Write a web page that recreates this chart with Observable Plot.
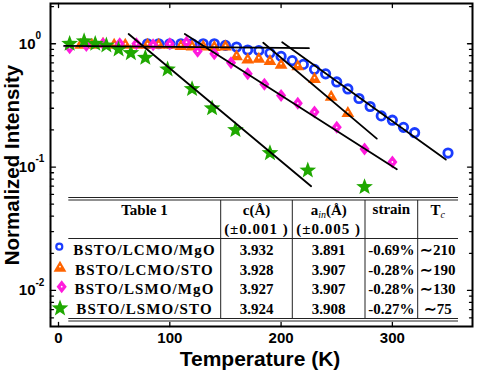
<!DOCTYPE html>
<html><head><meta charset="utf-8">
<script src="https://cdn.jsdelivr.net/npm/d3@7"></script>
<script src="https://cdn.jsdelivr.net/npm/@observablehq/plot@0.6"></script>
<style>body{margin:0;background:#fff}#chart{width:477px;height:370px}</style>
</head><body><div id="chart"></div>
<script>
// ---- data ----
const seriesNames = ["BSTO/LCMO/MgO", "BSTO/LCMO/STO", "BSTO/LSMO/MgO", "BSTO/LSMO/STO"];
const blueT = [80,90,100,110,120,130,140,150,160,170,180,190,200,210,220,230,240,250,260,270,280,290,300,310,320,350];
const blueI = [1.0,1.0,1.0,1.0,1.0,1.0,1.0,0.97,0.94,0.89,0.88,0.84,0.79,0.73,0.68,0.62,0.57,0.49,0.43,0.36,0.31,0.26,0.24,0.21,0.19,0.13];
const orangeT = [20,30,40,50,60,70,80,90,100,110,120,130,140,150,160,170,180,190,200,215,230,245,260];
const orangeI = [1.0,1.0,1.02,1.0,1.0,1.0,1.0,1.0,1.0,0.98,0.97,0.97,0.96,0.97,0.81,0.76,0.77,0.74,0.69,0.67,0.53,0.38,0.28];
const pinkT = [10,25,40,55,70,85,100,115,125,140,155,170,185,200,215,230,250,275,300];
const pinkI = [0.93,0.97,1.0,1.0,1.0,0.98,1.0,1.03,0.87,0.83,0.70,0.57,0.47,0.38,0.33,0.28,0.21,0.14,0.11];
const greenT = [10,23,33,43,54,65,78,98,120,138,159,190,224,275];
const greenI = [1.0,1.05,1.0,0.97,0.90,0.84,0.77,0.62,0.43,0.30,0.20,0.13,0.094,0.069];
// fitted lines: start/end temperature and intensity
const fitT0 = [5, 63, 113.5, 184, 201];
const fitT1 = [225, 227, 304, 286, 348];
const fitI0 = [0.96, 1.2, 1.2, 1.02, 1.03];
const fitI1 = [0.92, 0.07, 0.096, 0.17, 0.115];
// ticks
const xTicks = [0, 100, 200, 300];
const yMajor = [1, 0.1, 0.01];
const yExp = ["0", "-1", "-2"];
const yMinor = [0.006,0.007,0.008,0.009,0.02,0.03,0.04,0.05,0.06,0.07,0.08,0.09,0.2,0.3,0.4,0.5,0.6,0.7,0.8,0.9,2];
// table
const cVals = ["3.932", "3.928", "3.927", "3.924"];
const aVals = ["3.891", "3.907", "3.907", "3.908"];
const strainVals = ["-0.69%", "-0.28%", "-0.28%", "-0.27%"];
const tcVals = ["\u223C210", "\u223C190", "\u223C130", "\u223C75"];

const BLUE = "#1a3cff", ORANGE = "#ff6400", PINK = "#ff1adc", GREEN = "#1fa800";
const SANS = "'Liberation Sans', Arial, sans-serif";

// ---- symbols ----
const rOf = s => Math.sqrt(s / Math.PI);
const triSym = {draw(c, s) { const r = rOf(s); c.moveTo(0, -r * 0.92); c.lineTo(r, r * 0.8); c.lineTo(-r, r * 0.8); c.closePath(); }};
const diaSym = {draw(c, s) { const r = rOf(s); c.moveTo(0, -r); c.lineTo(r * 0.78, 0); c.lineTo(0, r); c.lineTo(-r * 0.78, 0); c.closePath(); }};
const starSym = {draw(c, s) { const r = rOf(s), ri = r * 0.42;
  for (let i = 0; i < 10; i++) { const a = -Math.PI / 2 + i * Math.PI / 5, rr = i % 2 ? ri : r;
    const x = rr * Math.cos(a), y = rr * Math.sin(a); i ? c.lineTo(x, y) : c.moveTo(x, y); }
  c.closePath(); }};
const tickShape = {draw(c, l) { c.moveTo(0, 0); c.lineTo(0, -l); }};

const pts = (T, I) => T.map((t, i) => ({T: t, I: I[i]}));
const blue = pts(blueT, blueI), orange = pts(orangeT, orangeI), pink = pts(pinkT, pinkI), green = pts(greenT, greenI);
const fits = fitT0.flatMap((t, i) => [{k: i, T: t, I: fitI0[i]}, {k: i, T: fitT1[i], I: fitI1[i]}]);

const tickOpts = {shape: tickShape, anchor: "start", stroke: "black", strokeWidth: 1.3};

const plot = Plot.plot({
  width: 477, height: 370,
  marginLeft: 50, marginRight: 5, marginTop: 3, marginBottom: 44,
  x: {domain: [-7.2, 372], axis: null},
  y: {type: "log", domain: [0.0051, 2.12], axis: null},
  marks: [
    Plot.dot(blue, {x: "T", y: "I", r: 4.2, stroke: BLUE, strokeWidth: 2.8, fill: "none"}),
    Plot.dot(orange, {x: "T", y: "I", r: 6.4, symbol: triSym, fill: ORANGE}),
    Plot.dot(orange, {x: "T", y: "I", r: 0.9, fill: "white"}),
    Plot.dot(pink, {x: "T", y: "I", r: 6.5, symbol: diaSym, fill: PINK}),
    Plot.dot(pink, {x: "T", y: "I", r: 0.9, fill: "white"}),
    Plot.dot(green, {x: "T", y: "I", r: 8.8, symbol: starSym, fill: GREEN}),
    Plot.line(fits, {x: "T", y: "I", z: "k", stroke: "black", strokeWidth: 1.8}),
    // inward ticks
    Plot.vector(xTicks, {x: d => d, frameAnchor: "bottom", length: 4, rotate: 0, ...tickOpts}),
    Plot.vector(xTicks, {x: d => d, frameAnchor: "top", length: 4, rotate: 180, ...tickOpts}),
    Plot.vector(yMajor, {y: d => d, frameAnchor: "left", length: 5, rotate: 90, ...tickOpts}),
    Plot.vector(yMinor, {y: d => d, frameAnchor: "left", length: 3, rotate: 90, ...tickOpts}),
    Plot.vector(yMajor, {y: d => d, frameAnchor: "right", length: 5, rotate: -90, ...tickOpts}),
    Plot.vector(yMinor, {y: d => d, frameAnchor: "right", length: 3, rotate: -90, ...tickOpts}),
    Plot.frame({stroke: "black", strokeWidth: 2}),
    // tick labels
    Plot.text(xTicks, {x: d => d, frameAnchor: "bottom", dy: 12, text: d => String(d), textAnchor: "middle", lineAnchor: "middle",
      fontSize: 15, fontWeight: "bold", fontFamily: SANS, fill: "black"}),
    Plot.text(yMajor, {y: d => d, frameAnchor: "left", dx: -15, text: () => "10", textAnchor: "end", lineAnchor: "middle",
      fontSize: 15, fontWeight: "bold", fontFamily: SANS, fill: "black"}),
    Plot.text(yMajor, {y: d => d, frameAnchor: "left", dx: -15, dy: -8, text: (d, i) => yExp[i], textAnchor: "start", lineAnchor: "middle",
      fontSize: 10, fontWeight: "bold", fontFamily: SANS, fill: "black"}),
    // axis titles
    Plot.text(["Temperature (K)"], {frameAnchor: "bottom", dy: 33, dx: -1.5, textAnchor: "middle", lineAnchor: "middle",
      fontSize: 21, fontWeight: "bold", fontFamily: SANS, fill: "black"}),
    Plot.text(["Normalized Intensity"], {frameAnchor: "left", dx: -38.5, rotate: -90, textAnchor: "middle", lineAnchor: "middle",
      fontSize: 20.5, fontWeight: "bold", fontFamily: SANS, fill: "black"})
  ]
});
document.getElementById("chart").appendChild(plot);

// ---- embedded table (layout in pixels) ----
const svg = d3.select(plot);
const tg = svg.append("g").attr("font-family", "'Liberation Serif', 'Times New Roman', serif")
  .attr("font-weight", "bold").attr("font-size", 15).attr("fill", "black").attr("text-anchor", "middle");
const L = 68.3, R = 458, vX = [220.7, 292.3, 365, 417.7];
const colC = [144.5, 256.5, 328.7, 391.3, 437.8];
[197.5, 200, 238.5, 318.5, 321].forEach(y =>
  tg.append("line").attr("x1", L).attr("x2", R).attr("y1", y).attr("y2", y).attr("stroke", "#222").attr("stroke-width", 1));
vX.forEach(x =>
  tg.append("line").attr("x1", x).attr("x2", x).attr("y1", 200).attr("y2", 318.5).attr("stroke", "#222").attr("stroke-width", 1));

tg.append("text").attr("x", colC[0]).attr("y", 215).text("Table 1");
tg.append("text").attr("x", colC[1]).attr("y", 215).text("c(\u00C5)");
const ah = tg.append("text").attr("x", colC[2]).attr("y", 215);
ah.append("tspan").text("a");
ah.append("tspan").attr("font-size", 10).attr("font-style", "italic").attr("font-weight", "normal").attr("dy", 3).text("in");
ah.append("tspan").attr("dy", -3).text("(\u00C5)");
tg.append("text").attr("x", colC[3]).attr("y", 214).text("strain");
const th = tg.append("text").attr("x", colC[4]).attr("y", 215);
th.append("tspan").text("T");
th.append("tspan").attr("font-size", 10).attr("font-style", "italic").attr("font-weight", "normal").attr("dy", 3).text("c");
tg.append("text").attr("x", colC[1]).attr("y", 233.5).attr("letter-spacing", 1).text("(\u00B10.001 )");
tg.append("text").attr("x", colC[2]).attr("y", 233.5).attr("letter-spacing", 1).text("(\u00B10.005 )");

const rowY = [255, 274.5, 294, 313.5];
seriesNames.forEach((n, i) => {
  const y = rowY[i];
  tg.append("text").attr("x", colC[0]).attr("y", y).attr("letter-spacing", 1.1).text(n);
  tg.append("text").attr("x", colC[1]).attr("y", y).text(cVals[i]);
  tg.append("text").attr("x", colC[2]).attr("y", y).text(aVals[i]);
  tg.append("text").attr("x", colC[3]).attr("y", y).text(strainVals[i]);
  tg.append("text").attr("x", colC[4]).attr("y", y).text(tcVals[i]);
});
// legend markers
const lg = svg.append("g");
const mk = [
  {x: 59.3, y: 246.7, type: null, r: 3, col: BLUE},
  {x: 60, y: 266.7, type: triSym, r: 6.4, col: ORANGE},
  {x: 61.7, y: 286.7, type: diaSym, r: 6.5, col: PINK},
  {x: 60, y: 308.3, type: starSym, r: 8.8, col: GREEN}
];
mk.forEach((m, i) => {
  if (i === 0) {
    lg.append("circle").attr("cx", m.x).attr("cy", m.y).attr("r", m.r).attr("fill", "none").attr("stroke", m.col).attr("stroke-width", 2.2);
  } else {
    lg.append("path").attr("transform", `translate(${m.x},${m.y})`)
      .attr("d", d3.symbol().type(m.type).size(Math.PI * m.r * m.r)()).attr("fill", m.col);
    if (i < 3) lg.append("circle").attr("cx", m.x).attr("cy", m.y).attr("r", 0.9).attr("fill", "white");
  }
});
</script>
</body></html>
